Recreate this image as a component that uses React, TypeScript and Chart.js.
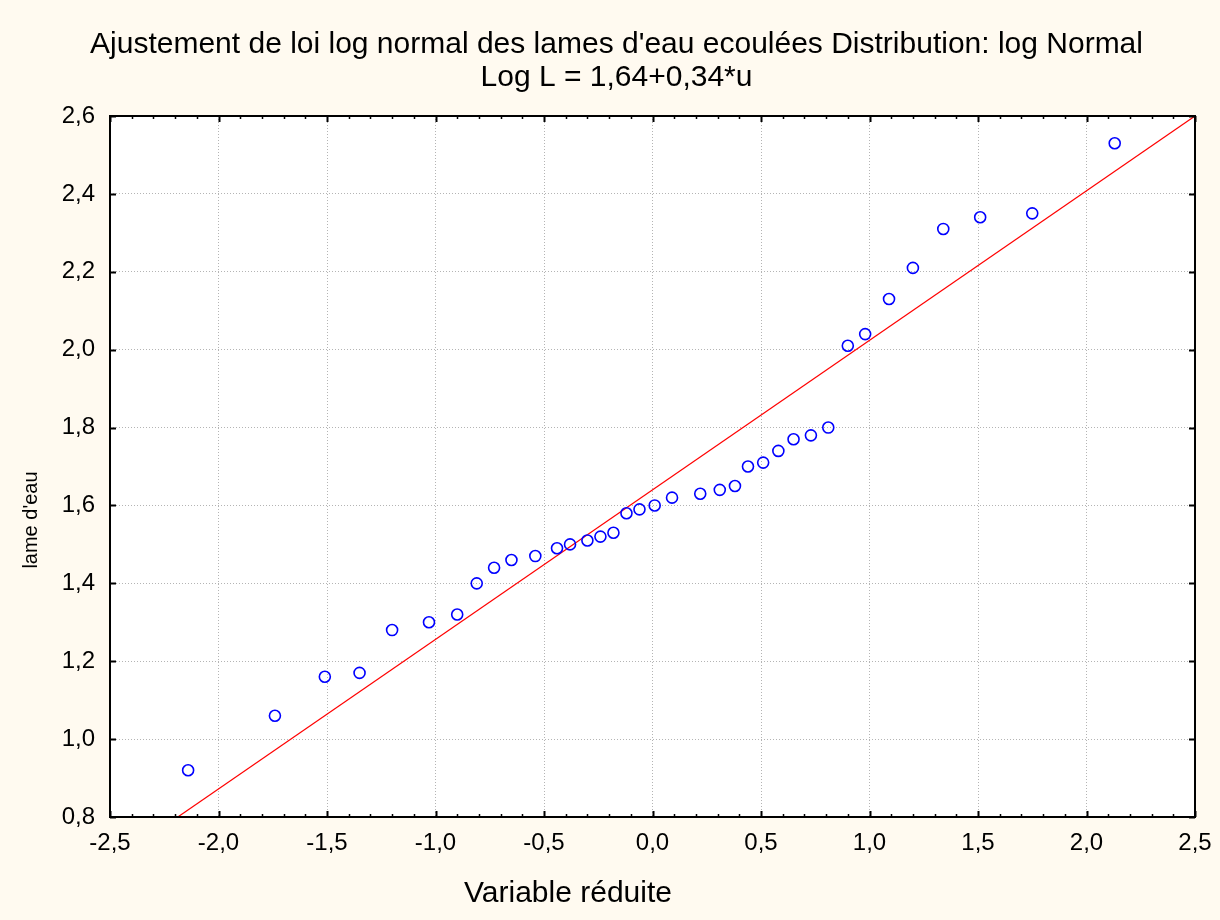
import React, { useEffect, useRef } from "react";
import { Chart, registerables } from "chart.js";

Chart.register(...registerables);

const X_VALUES = [
  -2.14, -1.74, -1.51, -1.35, -1.2, -1.03, -0.9, -0.81, -0.73, -0.65, -0.54, -0.44, -0.38,
  -0.3, -0.24, -0.18, -0.12, -0.06, 0.01, 0.09, 0.22, 0.31, 0.38, 0.44, 0.51, 0.58, 0.65,
  0.73, 0.81, 0.9, 0.98, 1.09, 1.2, 1.34, 1.51, 1.75, 2.13,
];
const Y_VALUES = [
  0.92, 1.06, 1.16, 1.17, 1.28, 1.3, 1.32, 1.4, 1.44, 1.46, 1.47, 1.49, 1.5,
  1.51, 1.52, 1.53, 1.58, 1.59, 1.6, 1.62, 1.63, 1.64, 1.65, 1.7, 1.71, 1.74, 1.77,
  1.78, 1.8, 2.01, 2.04, 2.13, 2.21, 2.31, 2.34, 2.35, 2.53,
];
const FIT_INTERCEPT = 1.64;
const FIT_SLOPE = 0.384;
const FIT_X = [-2.1875, 2.5];

const TITLE_LINES = [
  "Ajustement de loi log normal des lames d'eau ecoulées Distribution: log Normal",
  "Log L = 1,64+0,34*u",
];
const X_TITLE = "Variable réduite";
const Y_TITLE = "lame d'eau";
const X_MIN = -2.5, X_MAX = 2.5, X_STEP = 0.5, X_MINOR = 0.1;
const Y_MIN = 0.8, Y_MAX = 2.6, Y_STEP = 0.2;

const FONT = "'Liberation Sans', Arial, sans-serif";
const fmt = (v: number) => (Math.abs(v) < 1e-9 ? 0 : v).toFixed(1).replace(".", ",");

const framePlugin = {
  id: "frame",
  beforeDraw(chart: any) {
    const { ctx, chartArea: a } = chart;
    ctx.save();
    ctx.fillStyle = "#fffaf0";
    ctx.fillRect(0, 0, chart.width, chart.height);
    ctx.fillStyle = "#ffffff";
    ctx.fillRect(a.left, a.top, a.right - a.left, a.bottom - a.top);
    ctx.restore();
  },
  afterDraw(chart: any) {
    const { ctx, chartArea: a, scales } = chart;
    const xs = scales.x, ys = scales.y;
    ctx.save();
    ctx.strokeStyle = "#000";
    const nMinor = Math.round((X_MAX - X_MIN) / X_MINOR);
    for (let i = 0; i <= nMinor; i++) {
      const v = X_MIN + i * X_MINOR;
      const px = Math.round(xs.getPixelForValue(v)) + 0.5;
      const major = i % Math.round(X_STEP / X_MINOR) === 0;
      const len = major ? 6 : 3;
      ctx.lineWidth = major ? 2 : 1.5;
      ctx.beginPath();
      ctx.moveTo(px, a.bottom);
      ctx.lineTo(px, a.bottom - len);
      ctx.moveTo(px, a.top);
      ctx.lineTo(px, a.top + len);
      ctx.stroke();
    }
    const nY = Math.round((Y_MAX - Y_MIN) / Y_STEP);
    for (let i = 0; i <= nY; i++) {
      const v = Y_MIN + i * Y_STEP;
      const py = Math.round(ys.getPixelForValue(v)) + 0.5;
      ctx.lineWidth = 2;
      ctx.beginPath();
      ctx.moveTo(a.left, py);
      ctx.lineTo(a.left + 6, py);
      ctx.moveTo(a.right, py);
      ctx.lineTo(a.right - 6, py);
      ctx.stroke();
    }
    ctx.lineWidth = 2;
    ctx.strokeRect(a.left, a.top, a.right - a.left, a.bottom - a.top);

    // axis titles
    ctx.fillStyle = "#000";
    ctx.textAlign = "center";
    ctx.textBaseline = "middle";
    ctx.font = `30px ${FONT}`;
    ctx.fillText(X_TITLE, 568, 894);
    ctx.translate(31, 520);
    ctx.rotate(-Math.PI / 2);
    ctx.font = `20px ${FONT}`;
    ctx.fillText(Y_TITLE, 0, 0);
    ctx.restore();
  },
};

export default function App() {
  const ref = useRef<HTMLCanvasElement | null>(null);
  useEffect(() => {
    if (!ref.current) return;
    const points = X_VALUES.map((x, i) => ({ x, y: Y_VALUES[i] }));
    const fit = FIT_X.map((x) => ({ x, y: FIT_INTERCEPT + FIT_SLOPE * x }));
    const chart = new Chart(ref.current, {
      type: "scatter",
      data: {
        datasets: [
          {
            type: "line",
            data: fit,
            borderColor: "#ff0000",
            borderWidth: 1.2,
            pointRadius: 0,
            fill: false,
            order: 2,
          } as any,
          {
            data: points,
            pointStyle: "circle",
            pointRadius: 5.5,
            borderColor: "#0000ff",
            borderWidth: 1.6,
            backgroundColor: "rgba(0,0,0,0)",
            order: 1,
          },
        ],
      },
      options: {
        animation: false,
        responsive: false,
        devicePixelRatio: 1,
        layout: { padding: { left: 38, right: 25, top: 0, bottom: 0 } },
        plugins: {
          legend: { display: false },
          tooltip: { enabled: false },
          title: {
            display: true,
            text: TITLE_LINES,
            color: "#000",
            font: { family: FONT, size: 30, weight: "normal", lineHeight: 1.1 },
            padding: { top: 28.5, bottom: 21.5 },
          },
        },
        scales: {
          x: {
            type: "linear",
            min: X_MIN,
            max: X_MAX,
            afterFit: (s: any) => {
              s.height = 103;
              s.paddingLeft = 0;
              s.paddingRight = 0;
            },
            ticks: {
              stepSize: X_STEP,
              callback: (v: any) => fmt(Number(v)),
              color: "#000",
              font: { family: FONT, size: 24 },
              padding: 12,
              maxRotation: 0,
            },
            grid: { color: "#b4b4b4", lineWidth: 1, drawTicks: false },
            border: { display: false, dash: [1, 2] },
          },
          y: {
            type: "linear",
            min: Y_MIN,
            max: Y_MAX,
            afterFit: (s: any) => { s.width = 72; },
            ticks: {
              stepSize: Y_STEP,
              callback: (v: any) => fmt(Number(v)),
              color: "#000",
              font: { family: FONT, size: 24 },
              padding: 15,
            },
            grid: { color: "#b4b4b4", lineWidth: 1, drawTicks: false },
            border: { display: false, dash: [1, 2] },
          },
        },
      },
      plugins: [framePlugin],
    });
    return () => chart.destroy();
  }, []);
  return (
    <div style={{ position: "absolute", left: 0, top: 0, width: 1220, height: 920, background: "#fffaf0" }}>
      <canvas ref={ref} width={1220} height={920} style={{ display: "block" }} />
    </div>
  );
}
